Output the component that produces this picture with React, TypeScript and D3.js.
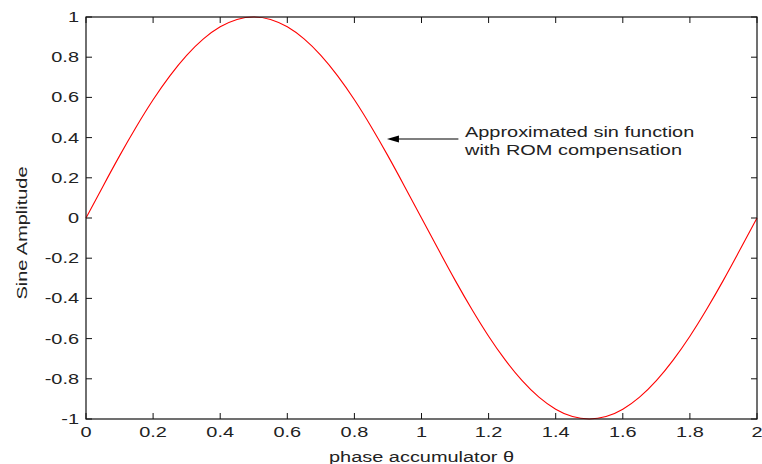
import React from "react";
import * as d3 from "d3";

const xValues = [
  0, 0.05, 0.1, 0.15, 0.2, 0.25, 0.3, 0.35, 0.4, 0.45, 0.5, 0.55, 0.6, 0.65, 0.7, 0.75, 0.8, 0.85, 0.9, 0.95,
  1, 1.05, 1.1, 1.15, 1.2, 1.25, 1.3, 1.35, 1.4, 1.45, 1.5, 1.55, 1.6, 1.65, 1.7, 1.75, 1.8, 1.85, 1.9, 1.95, 2,
];
const amplitude = [
  0, 0.156, 0.309, 0.454, 0.588, 0.707, 0.809, 0.891, 0.951, 0.988, 1.0, 0.988, 0.951, 0.891, 0.809, 0.707,
  0.588, 0.454, 0.309, 0.156, 0, -0.156, -0.309, -0.454, -0.588, -0.707, -0.809, -0.891, -0.951, -0.988, -1.0,
  -0.988, -0.951, -0.891, -0.809, -0.707, -0.588, -0.454, -0.309, -0.156, 0,
];
const xTicks = [0, 0.2, 0.4, 0.6, 0.8, 1, 1.2, 1.4, 1.6, 1.8, 2];
const yTicks = [-1, -0.8, -0.6, -0.4, -0.2, 0, 0.2, 0.4, 0.6, 0.8, 1];
const annotationLines = ["Approximated sin function", "with ROM compensation"];
const arrowTip = { x: 0.897, y: 0.393 };
const arrowTail = { x: 1.11, y: 0.393 };

const W = 762;
const H = 464;
const left = 86;
const right = 757;
const top = 17;
const bottom = 419;
const SX = 1.33;
const FS = 15;
const FONT = "'Liberation Sans', Arial, Helvetica, sans-serif";
const TXT = "#222";

export default function App() {
  const x = d3.scaleLinear().domain([0, 2]).range([left, right]);
  const y = d3.scaleLinear().domain([-1, 1]).range([bottom, top]);
  const data = xValues.map((v, i) => [v, amplitude[i]] as [number, number]);
  const line = d3
    .line<[number, number]>()
    .x((d) => x(d[0]))
    .y((d) => y(d[1]))
    .curve(d3.curveNatural);
  const tl = 6;
  const fmt = (v: number) => String(+v.toFixed(1));
  const tipX = x(arrowTip.x);
  const tipY = y(arrowTip.y);
  const tailX = x(arrowTail.x);

  return (
    <svg
      width={W}
      height={H}
      style={{ position: "absolute", left: 0, top: 0, background: "#fff" }}
      fontFamily={FONT}
    >
      <rect x={0} y={0} width={W} height={H} fill="#fff" />
      {xTicks.map((t) => (
        <g key={"xt" + t} stroke="#111" strokeWidth={1}>
          <line x1={x(t)} x2={x(t)} y1={bottom} y2={bottom - tl} />
          <line x1={x(t)} x2={x(t)} y1={top} y2={top + tl} />
        </g>
      ))}
      {yTicks.map((t) => (
        <g key={"yt" + t} stroke="#111" strokeWidth={1}>
          <line x1={left} x2={left + tl} y1={y(t)} y2={y(t)} />
          <line x1={right} x2={right - tl} y1={y(t)} y2={y(t)} />
        </g>
      ))}
      <path d={line(data) || ""} fill="none" stroke="#ff0000" strokeWidth={1.1} />
      <rect x={left} y={top} width={right - left} height={bottom - top} fill="none" stroke="#111" strokeWidth={1.2} />
      {xTicks.map((t) => (
        <text
          key={"xl" + t}
          transform={`translate(${x(t)},${bottom + 18}) scale(${SX},1)`}
          textAnchor="middle"
          fontSize={FS}
          fill={TXT}
        >
          {fmt(t)}
        </text>
      ))}
      {yTicks.map((t) => (
        <text
          key={"yl" + t}
          transform={`translate(${left - 7},${y(t) + 5}) scale(${SX},1)`}
          textAnchor="end"
          fontSize={FS}
          fill={TXT}
        >
          {fmt(t)}
        </text>
      ))}
      <text
        transform={`translate(${(left + right) / 2},${bottom + 25 + 18}) scale(${SX},1)`}
        textAnchor="middle"
        fontSize={FS}
        fill={TXT}
      >
        phase accumulator θ
      </text>
      <text
        transform={`translate(27,${(top + bottom) / 2 + 15}) rotate(-90) scale(${SX},1)`}
        textAnchor="middle"
        fontSize={FS}
        fill={TXT}
      >
        Sine Amplitude
      </text>
      <line x1={tailX} x2={tipX + 10} y1={tipY} y2={tipY} stroke="#000" strokeWidth={1.2} />
      <path d={`M${tipX},${tipY} L${tipX + 12},${tipY - 3.5} L${tipX + 12},${tipY + 3.5} Z`} fill="#000" />
      {annotationLines.map((s, i) => (
        <text
          key={s}
          transform={`translate(465,${137 + i * 18}) scale(${SX},1)`}
          fontSize={FS}
          fill={TXT}
        >
          {s}
        </text>
      ))}
    </svg>
  );
}
